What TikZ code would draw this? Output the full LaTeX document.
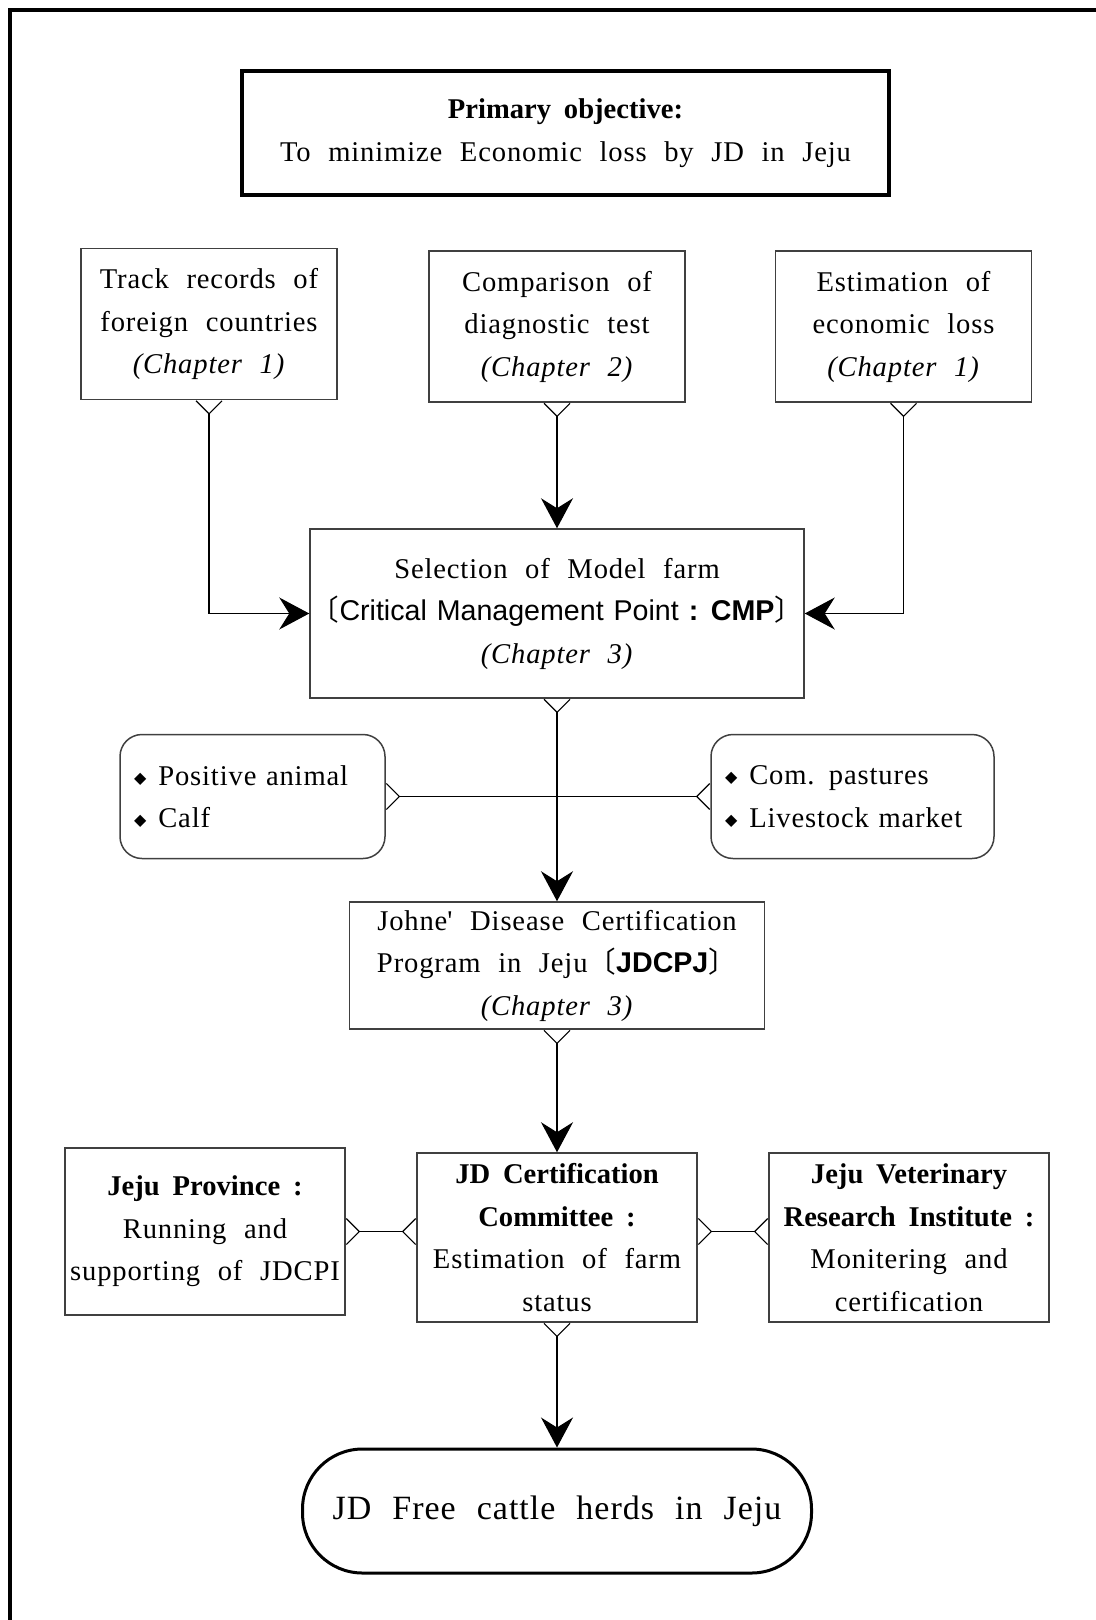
\documentclass[tikz,border=0pt]{standalone}
\usepackage{fontspec}
\setmainfont{Liberation Serif}[WordSpace=2.2, LetterSpace=3, BoldFeatures={LetterSpace=0, WordSpace=1.8}]
\setsansfont{Liberation Sans}[WordSpace=1.25]
\newfontfamily\symfont{DejaVu Sans}
\newfontfamily\cjkfont{Noto Sans CJK KR}
\usepackage{tikz}
\usetikzlibrary{shapes.geometric, arrows.meta}
\usetikzlibrary{positioning}
\tikzstyle{process} = [rectangle, draw=black!75, line width=0.75pt, align=center, inner sep=0pt, font=\fontsize{14.3pt}{21.25pt}\selectfont]
\tikzstyle{goal} = [process, draw=black, line width=2pt, minimum width=323.5pt, minimum height=62pt]
\tikzstyle{source} = [process, minimum width=128pt, minimum height=75.5pt]
\tikzstyle{actor} = [process, minimum width=140pt, minimum height=84.5pt]
\tikzstyle{risk} = [process, rounded corners=11pt, align=left, inner xsep=7pt, minimum height=62pt]
\tikzstyle{herd} = [process, draw=black, line width=1.5pt, rounded corners=30pt, minimum width=254.5pt, minimum height=62pt, font=\fontsize{17pt}{21pt}\selectfont]
\tikzstyle{flow} = [line width=0.6pt, {Straight Barb[reversed, length=6.5pt, width=13pt]}-{Stealth[length=15pt, width=16pt, inset=5pt]}]
\tikzstyle{tie} = [line width=0.6pt, {Straight Barb[reversed, length=6.5pt, width=13pt]}-{Straight Barb[reversed, length=6.5pt, width=13pt]}]
\newcommand{\dia}{\raisebox{1pt}{\symfont\footnotesize ◆}\hspace{6pt}}

\begin{document}
\begin{tikzpicture}[node distance=136pt]
\useasboundingbox (0,0) rectangle (548pt,-810pt);
\draw [line width=2pt] (4.75pt,-5pt) rectangle (553pt,-815pt);

\node (goal) [goal] at (282.75pt,-66.5pt) {\textbf{Primary objective:}\\To minimize Economic loss by JD in Jeju};

\node (test) [source, below of=goal, xshift=-4.25pt, yshift=39.25pt] {Comparison of\\diagnostic test\\\textit{(Chapter 2)}};

\node (track) [source, left of=test, xshift=-38pt, yshift=1.25pt] {Track records of\\foreign countries\\\textit{(Chapter 1)}};

\node (loss) [source, right of=test, xshift=37.25pt] {Estimation of\\economic loss\\\textit{(Chapter 1)}};

\node (model) [process, minimum width=247pt, minimum height=84.5pt, below of=test, yshift=-7.5pt] {Selection of Model farm\\{\cjkfont 〔}\textsf{Critical Management Point \textbf{: CMP}}{\cjkfont 〕}\\\textit{(Chapter 3)}};

\node (risk1) [risk, text width=118.5pt, below of=model, xshift=-152.25pt, yshift=44.5pt] {\dia Positive animal\\\dia Calf};

\node (risk2) [risk, text width=127.5pt, below of=model, xshift=147.75pt, yshift=44.5pt] {\dia Com. pastures\\\dia Livestock market};

\node (jdcpj) [process, minimum width=207.5pt, minimum height=63.5pt, below of=model, yshift=-40pt] {Johne\textquotesingle{} Disease Certification\\Program in Jeju{\cjkfont 〔}\textsf{\textbf{JDCPJ}}{\cjkfont 〕}\\\textit{(Chapter 3)}};

\node (committee) [actor, below of=jdcpj] {\textbf{JD Certification}\\\textbf{Committee :}\\Estimation of farm\\status};

\node (prov) [actor, minimum height=83.5pt, left of=committee, xshift=-40pt, yshift=3pt] {\textbf{Jeju Province :}\\Running and\\supporting of JDCPI};

\node (vri) [actor, right of=committee, xshift=40pt] {\textbf{Jeju Veterinary}\\\textbf{Research Institute :}\\Monitering and\\certification};

\node (free) [herd, below of=committee, yshift=-0.75pt] {JD Free cattle herds in Jeju};

\draw [flow] (track.south) |- (model.west);
\draw [flow] (test.south) -- (model.north);
\draw [flow] (loss.south) |- (model.east);
\draw [flow] (model.south) -- (jdcpj.north);
\draw [tie] (risk1.east) -- (risk2.west);
\draw [flow] (jdcpj.south) -- (committee.north);
\draw [tie] (prov.east) -- (prov.east -| committee.west);
\draw [tie] (committee.east |- prov.east) -- (prov.east -| vri.west);
\draw [flow] (committee.south) -- (free.north);

\end{tikzpicture}
\end{document}
